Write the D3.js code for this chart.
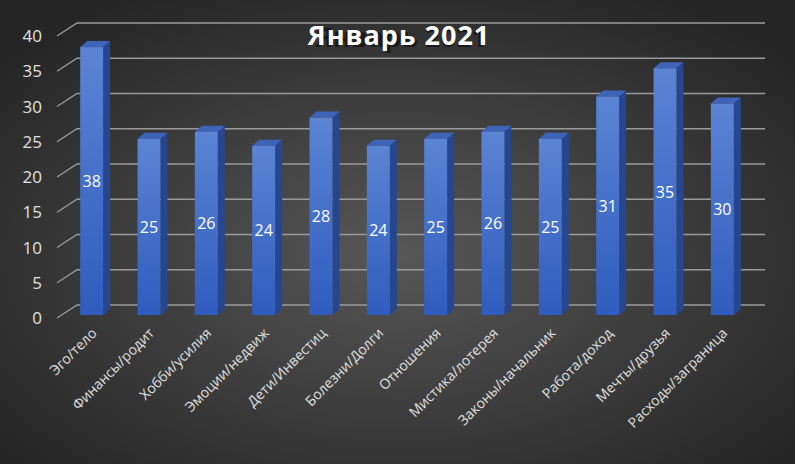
<!DOCTYPE html>
<html><head><meta charset="utf-8">
<script src="https://cdn.jsdelivr.net/npm/d3@7"></script>
<style>body{margin:0;background:#222}</style>
</head><body>
<svg width="795" height="464"></svg>
<script>
// data
const categories = ['Эго/тело','Финансы/родит','Хобби/усилия','Эмоции/недвиж','Дети/Инвестиц','Болезни/Долги','Отношения','Мистика/лотерея','Законы/начальник','Работа/доход','Мечты/друзья','Расходы/заграница'];
const values = [38,25,26,24,28,24,25,26,25,31,35,30];
const ticks = [0,5,10,15,20,25,30,35,40];

const svg = d3.select('svg');
const defs = svg.append('defs');
const bg = defs.append('radialGradient').attr('id','bg').attr('cx','50%').attr('cy','55%').attr('r','65%');
bg.append('stop').attr('offset','0%').attr('stop-color','#575757');
bg.append('stop').attr('offset','100%').attr('stop-color','#252525');
const front = defs.append('linearGradient').attr('id','fr').attr('x1',0).attr('y1',0).attr('x2',0).attr('y2',1);
front.append('stop').attr('offset','0%').attr('stop-color','#5b84d4');
front.append('stop').attr('offset','100%').attr('stop-color','#2f5cbe');
svg.append('rect').attr('width',795).attr('height',464).attr('fill','url(#bg)');

const dx = 20, dy = -13; // perspective to back wall
const x = d3.scaleBand().domain(categories).range([63, 751]).paddingInner(0.6).paddingOuter(0.3);
const y = d3.scaleLinear().domain([0,40]).range([318, 36]);

// gridlines
ticks.forEach(t => {
  svg.append('path')
    .attr('d', `M57,${y(t)}L${57+dx},${y(t)+dy}L765,${y(t)+dy}`)
    .attr('fill','none').attr('stroke','#9a9a9a').attr('stroke-width',1.3);
});
svg.selectAll('.yl').data(ticks).join('text')
  .attr('x',42).attr('y',d=>y(d)+6).attr('text-anchor','end')
  .attr('fill','#e0e0e0').attr('font-family','Open Sans, sans-serif').attr('font-size',17)
  .text(d=>d);

// bars
const bw = x.bandwidth(), sx = 7, sy = -6, base = 315;
const g = svg.selectAll('.bar').data(values).join('g');
g.append('path') // side
  .attr('d',(d,i)=>{const x1=x(categories[i])+bw, t=base-(318-y(d));
    return `M${x1},${base}L${x1+sx},${base+sy}L${x1+sx},${t+sy}L${x1},${t}Z`;})
  .attr('fill','#26468f');
g.append('path') // top
  .attr('d',(d,i)=>{const x0=x(categories[i]), t=base-(318-y(d));
    return `M${x0},${t}L${x0+sx},${t+sy}L${x0+bw+sx},${t+sy}L${x0+bw},${t}Z`;})
  .attr('fill','#3d64b8');
g.append('rect')
  .attr('x',(d,i)=>x(categories[i])).attr('width',bw)
  .attr('y',d=>base-(318-y(d))).attr('height',d=>318-y(d))
  .attr('fill','url(#fr)');
g.append('text')
  .attr('x',(d,i)=>x(categories[i])+bw/2)
  .attr('y',d=>base-(318-y(d))/2+6)
  .attr('text-anchor','middle').attr('fill','#fff')
  .attr('font-family','Open Sans, sans-serif').attr('font-size',16)
  .text(d=>d);

// category labels
svg.selectAll('.cl').data(categories).join('text')
  .attr('transform',d=>`translate(${x(d)+bw/2+6},${334}) rotate(-45)`)
  .attr('text-anchor','end').attr('fill','#e0e0e0')
  .attr('font-family','Open Sans, sans-serif').attr('font-size',14)
  .text(d=>d);

// title
svg.append('text').attr('x',401).attr('y',47).attr('text-anchor','middle')
  .attr('fill','#000').attr('opacity',0.5).attr('font-family','Open Sans, sans-serif')
  .attr('font-weight','bold').attr('font-size',27).text('Январь 2021');
svg.append('text').attr('x',399).attr('y',45).attr('text-anchor','middle')
  .attr('fill','#fff').attr('font-family','Open Sans, sans-serif')
  .attr('font-weight','bold').attr('font-size',27).attr('letter-spacing',1).text('Январь 2021');
</script>
</body></html>
